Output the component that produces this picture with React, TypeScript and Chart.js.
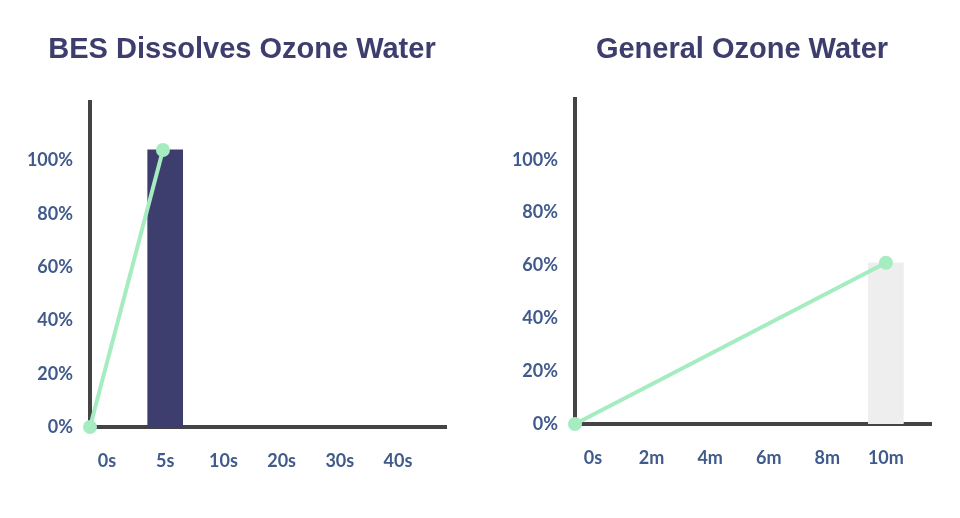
import React, { useEffect, useRef } from 'react';
import Chart from 'chart.js/auto';

// ---------- data ----------
const leftTitle = 'BES Dissolves Ozone Water';
const rightTitle = 'General Ozone Water';

const leftCategories = ['0s', '5s', '10s', '20s', '30s', '40s'];
const leftBarValues: (number | null)[] = [null, 104, null, null, null, null];
const leftLineTimes = [0, 5]; // seconds
const leftLineValues = [0, 104];

const rightCategories = ['0s', '2m', '4m', '6m', '8m', '10m'];
const rightBarValues: (number | null)[] = [null, null, null, null, null, 61];
const rightLineTimes = [0, 10]; // minutes
const rightLineValues = [0, 61];

const yTickValues = [0, 20, 40, 60, 80, 100];

// ---------- styles ----------
const NAVY = '#3d3e6d';
const TICK = '#3f5a8b';
const GREEN = '#a5ecc1';
const AXIS = '#444444';
const GRAY = '#eeeeee';
const tickFont = { family: 'Lato, "Open Sans", sans-serif', size: 18, weight: 'bold' as const };

const titlePlugin = {
  id: 'customTitle',
  afterDraw(chart: any, _args: any, opts: any) {
    const { ctx } = chart;
    ctx.save();
    ctx.font = 'bold 29px "Liberation Sans", Arial, sans-serif';
    ctx.fillStyle = opts.color;
    ctx.textAlign = 'center';
    ctx.textBaseline = 'middle';
    ctx.fillText(opts.text, opts.x, opts.y);
    ctx.restore();
  },
};

interface P {
  title: string;
  titleX: number;
  categories: string[];
  barValues: (number | null)[];
  barColor: string;
  lineTimes: number[];
  lineValues: number[];
  xMin: number;
  xMax: number;
  tMax: number;
  yMax: number;
  top: number;
  left: number;
  right: number;
  bottom: number;
}

function makeConfig(p: P): any {
  return {
    type: 'bar',
    data: {
      datasets: [
        {
          type: 'line',
          xAxisID: 'tx',
          yAxisID: 'y',
          order: 0,
          data: p.lineTimes.map((t, i) => ({ x: t, y: p.lineValues[i] })),
          borderColor: GREEN,
          backgroundColor: GREEN,
          borderWidth: 4,
          pointRadius: 7,
          pointBorderWidth: 0,
          pointBackgroundColor: GREEN,
          tension: 0,
          clip: false,
        },
        {
          type: 'bar',
          xAxisID: 'x',
          yAxisID: 'y',
          order: 1,
          data: p.categories.map((_, i) => ({ x: i, y: p.barValues[i] })),
          backgroundColor: p.barColor,
          borderWidth: 0,
          grouped: false,
          barPercentage: 1,
          categoryPercentage: 1,
          maxBarThickness: 35,
        },
      ],
    },
    options: {
      responsive: false,
      animation: false,
      layout: { padding: { top: p.top, left: 0, right: p.right, bottom: 0 } },
      plugins: {
        legend: { display: false },
        tooltip: { enabled: false },
        title: { display: false },
        customTitle: { text: p.title, x: p.titleX, y: 50, color: NAVY },
      },
      scales: {
        x: {
          type: 'linear',
          offset: false,
          min: p.xMin,
          max: p.xMax,
          grid: { display: false, drawTicks: false, offset: false },
          border: { display: true, color: AXIS, width: 4 },
          ticks: {
            font: tickFont,
            color: TICK,
            padding: 23,
            autoSkip: false,
            maxRotation: 0,
            callback: (v: number) => p.categories[v] ?? '',
          },
          afterBuildTicks: (s: any) => {
            s.ticks = p.categories.map((_, i) => ({ value: i }));
          },
          afterFit: (s: any) => {
            s.height = p.bottom;
          },
        },
        tx: {
          type: 'linear',
          display: false,
          offset: false,
          min: 0,
          max: p.tMax,
        },
        y: {
          type: 'linear',
          min: 0,
          max: p.yMax,
          grid: { display: false, drawTicks: false },
          border: { display: true, color: AXIS, width: 4 },
          ticks: {
            font: tickFont,
            color: TICK,
            padding: 17,
            callback: (v: number) => v + '%',
          },
          afterBuildTicks: (s: any) => {
            s.ticks = yTickValues.map((v) => ({ value: v }));
          },
          afterFit: (s: any) => {
            s.width = p.left;
          },
        },
      },
    },
    plugins: [titlePlugin],
  };
}

function ChartCanvas({ p, x }: { p: P; x: number }) {
  const ref = useRef<HTMLCanvasElement>(null);
  useEffect(() => {
    if (!ref.current) return;
    const c = new Chart(ref.current, makeConfig(p));
    return () => c.destroy();
  }, []);
  return (
    <canvas
      ref={ref}
      width={480}
      height={518}
      style={{ position: 'absolute', left: x, top: 0, width: 480, height: 518 }}
    />
  );
}

const leftParams: P = {
  title: leftTitle,
  titleX: 242,
  categories: leftCategories,
  barValues: leftBarValues,
  barColor: NAVY,
  lineTimes: leftLineTimes,
  lineValues: leftLineValues,
  xMin: -0.292,
  xMax: 5.825,
  tMax: 24.4,
  yMax: 122,
  top: 102,
  left: 90,
  right: 34,
  bottom: 91,
};

const rightParams: P = {
  title: rightTitle,
  titleX: 262,
  categories: rightCategories,
  barValues: rightBarValues,
  barColor: GRAY,
  lineTimes: rightLineTimes,
  lineValues: rightLineValues,
  xMin: -0.307,
  xMax: 5.77,
  tMax: 11.45,
  yMax: 123,
  top: 99,
  left: 95,
  right: 29,
  bottom: 94,
};

export default function App() {
  return (
    <div style={{ position: 'fixed', left: 0, top: 0, width: 960, height: 518, background: '#fff' }}>
      <ChartCanvas p={leftParams} x={0} />
      <ChartCanvas p={rightParams} x={480} />
    </div>
  );
}
